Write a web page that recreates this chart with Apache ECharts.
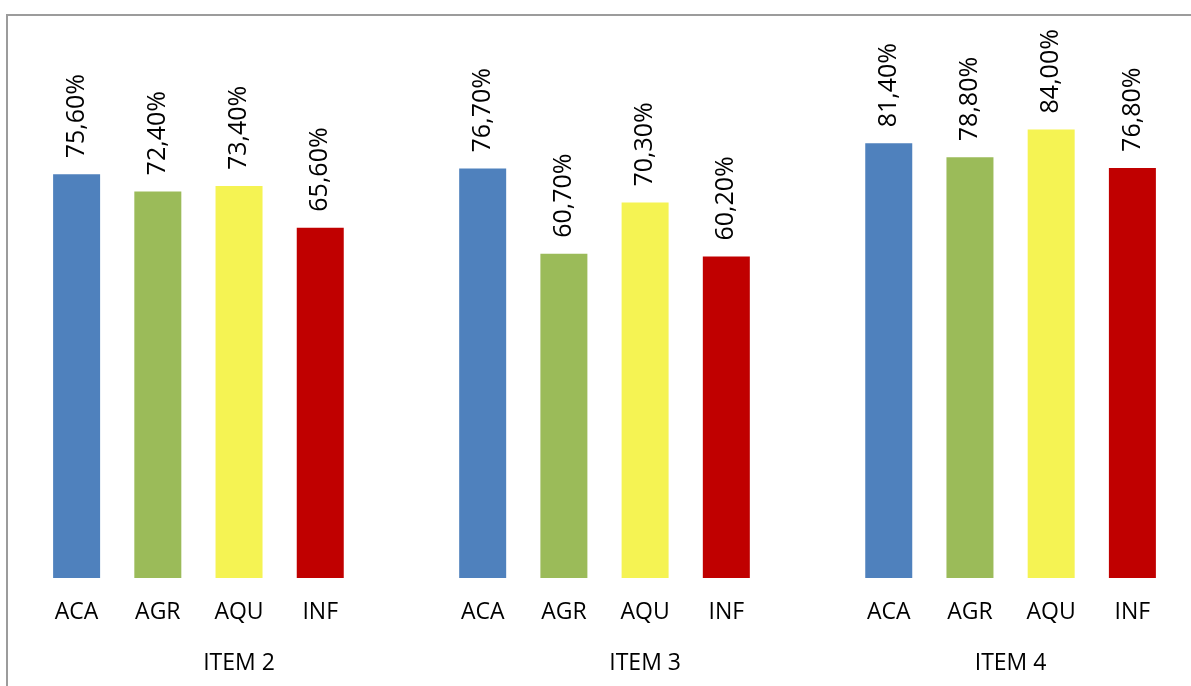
<!DOCTYPE html>
<html>
<head>
<meta charset="utf-8">
<style>
    html, body { margin: 0; padding: 0; background: #fff; overflow: hidden; }
    #chart { width: 1191px; height: 686px; }
    .frame { position: absolute; left: 6px; top: 14px; width: 1300px; height: 800px;
             border: 2px solid #9c9c9c; pointer-events: none; }
</style>
<script src="https://cdn.jsdelivr.net/npm/echarts@6/dist/echarts.min.js"></script>
</head>
<body>
<div id="chart"></div>
<div class="frame"></div>
<script>
// grupos e subcategorias
var groups = ['ITEM 2', 'ITEM 3', 'ITEM 4'];
var subs = ['ACA', 'AGR', 'AQU', 'INF'];
var colors = ['#4f81bd', '#9bbb59', '#f5f353', '#c00000'];

// valores (%) por grupo
var item2 = [75.6, 72.4, 73.4, 65.6];
var item3 = [76.7, 60.7, 70.3, 60.2];
var item4 = [81.4, 78.8, 84.0, 76.8];
var values = [item2, item3, item4];

// monta eixo de 14 categorias (com espaço vazio entre grupos)
var cats = [];
var barData = [];
var groupCenters = [];   // em meias-categorias
for (var g = 0; g < groups.length; g++) {
    var start = cats.length;
    for (var i = 0; i < subs.length; i++) {
        cats.push(subs[i]);
        barData.push({ value: values[g][i], itemStyle: { color: colors[i] } });
    }
    if (g < groups.length - 1) {
        cats.push('');
        barData.push('-');
    }
    groupCenters.push(2 * start + (cats.length - start));
}
var halfCats = [];
for (var k = 0; k <= cats.length * 2; k++) halfCats.push('');
for (var g = 0; g < groups.length; g++) halfCats[groupCenters[g]] = groups[g];

var font = '"Open Sans", "Noto Sans", sans-serif';
var chart = echarts.init(document.getElementById('chart'));
var option = {
    animation: false,
    grid: { left: 36, right: 18, top: 44, bottom: 108 },
    xAxis: [{
        type: 'category',
        data: cats,
        axisLine: { show: false },
        axisTick: { show: false },
        axisLabel: { interval: 0, color: '#000', fontSize: 23, fontFamily: font, margin: 23 }
    }, {
        type: 'category',
        position: 'bottom',
        offset: 51,
        boundaryGap: false,
        data: halfCats,
        axisLine: { show: false },
        axisTick: { show: false },
        axisLabel: { interval: 0, color: '#000', fontSize: 23, fontFamily: font, margin: 23 }
    }],
    yAxis: { type: 'value', min: 0, max: 100, show: false },
    series: [{
        type: 'bar',
        xAxisIndex: 0,
        barWidth: 47,
        data: barData,
        label: {
            show: true,
            position: 'top',
            rotate: 90,
            align: 'left',
            verticalAlign: 'middle',
            distance: 16,
            color: '#000',
            fontSize: 25,
            fontFamily: font,
            formatter: function (p) {
                return p.value.toFixed(2).replace('.', ',') + '%';
            }
        }
    }]
};
chart.setOption(option);
</script>
</body>
</html>
